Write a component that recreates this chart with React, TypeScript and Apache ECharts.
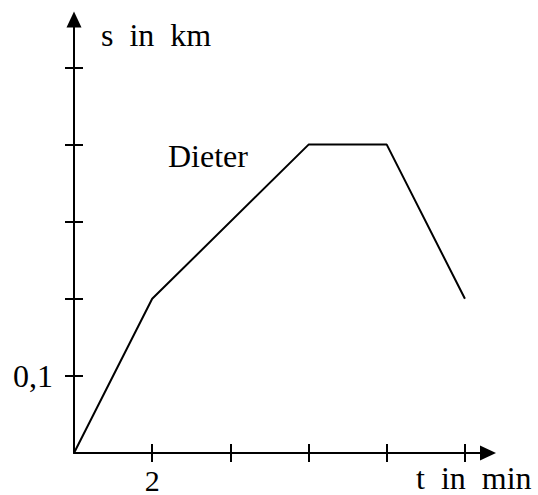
import React, { useEffect, useRef } from "react";
import * as echarts from "echarts";

const times = [0, 2, 6, 8, 10];
const distances = [0, 0.2, 0.4, 0.4, 0.2];
const xTickValues = [2, 4, 6, 8, 10];
const yTickValues = [0.1, 0.2, 0.3, 0.4, 0.5];
const xLabelValues = [2];
const yLabelValues = [0.1];
const xAxisTitle = "t  in  min";
const yAxisTitle = "s  in  km";
const seriesName = "Dieter";

const FONT = "'Liberation Serif', 'Times New Roman', serif";

export default function App() {
  const ref = useRef<HTMLDivElement>(null);
  useEffect(() => {
    const chart = echarts.init(ref.current!, null, { renderer: "svg" });
    const xMin = 0, xMax = 10.59, yMin = 0, yMax = 0.5623;
    const axisLine = {
      show: true,
      onZero: false,
      lineStyle: { color: "#000", width: 2 },
    };
    const baseX = {
      type: "value" as const,
      min: xMin,
      max: xMax,
      position: "bottom" as const,
      splitLine: { show: false },
    };
    const baseY = {
      type: "value" as const,
      min: yMin,
      max: yMax,
      position: "left" as const,
      splitLine: { show: false },
    };
    const titleText = {
      fontFamily: FONT,
      fontSize: 32,
      fontWeight: "normal" as const,
      color: "#000",
    };
    chart.setOption({
      animation: false,
      backgroundColor: "#fff",
      textStyle: { fontFamily: FONT },
      title: [
        { text: yAxisTitle, left: 101, top: 19, padding: 0, textStyle: titleText },
        { text: xAxisTitle, left: 416, top: 462, padding: 0, textStyle: titleText },
        { text: seriesName, left: 168, top: 140, padding: 0, textStyle: titleText },
      ],
      grid: { left: 74, right: 50, top: 19.5, bottom: 42, containLabel: false },
      xAxis: [
        {
          ...baseX,
          axisLine: { ...axisLine, symbol: ["none", "triangle"], symbolSize: [15, 16] },
          axisTick: { show: true, customValues: xTickValues, length: 9, lineStyle: { color: "#000", width: 2 } },
          axisLabel: {
            show: true,
            customValues: xLabelValues,
            color: "#000",
            fontFamily: FONT,
            fontSize: 30,
            lineHeight: 28,
            margin: 13,
            verticalAlign: "top",
          },
        },
        {
          ...baseX,
          axisLine: { show: false },
          axisTick: { show: true, inside: true, customValues: xTickValues, length: 9, lineStyle: { color: "#000", width: 2 } },
          axisLabel: { show: false },
        },
      ],
      yAxis: [
        {
          ...baseY,
          axisLine: { ...axisLine, symbol: ["none", "triangle"], symbolSize: [15, 16] },
          axisTick: { show: true, customValues: yTickValues, length: 9, lineStyle: { color: "#000", width: 2 } },
          axisLabel: {
            show: true,
            customValues: yLabelValues,
            color: "#000",
            fontFamily: FONT,
            fontSize: 32,
            margin: 21,
            formatter: (v: number) => String(v).replace(".", ","),
          },
        },
        {
          ...baseY,
          axisLine: { show: false },
          axisTick: { show: true, inside: true, customValues: yTickValues, length: 9, lineStyle: { color: "#000", width: 2 } },
          axisLabel: { show: false },
        },
      ],
      series: [
        {
          name: seriesName,
          type: "line",
          xAxisIndex: 0,
          yAxisIndex: 0,
          data: times.map((t, i) => [t, distances[i]]),
          symbol: "none",
          clip: false,
          lineStyle: { color: "#000", width: 2 },
        },
      ],
    });
    return () => chart.dispose();
  }, []);
  return (
    <div
      ref={ref}
      style={{ position: "absolute", left: 0, top: 0, width: 538, height: 495 }}
    />
  );
}
